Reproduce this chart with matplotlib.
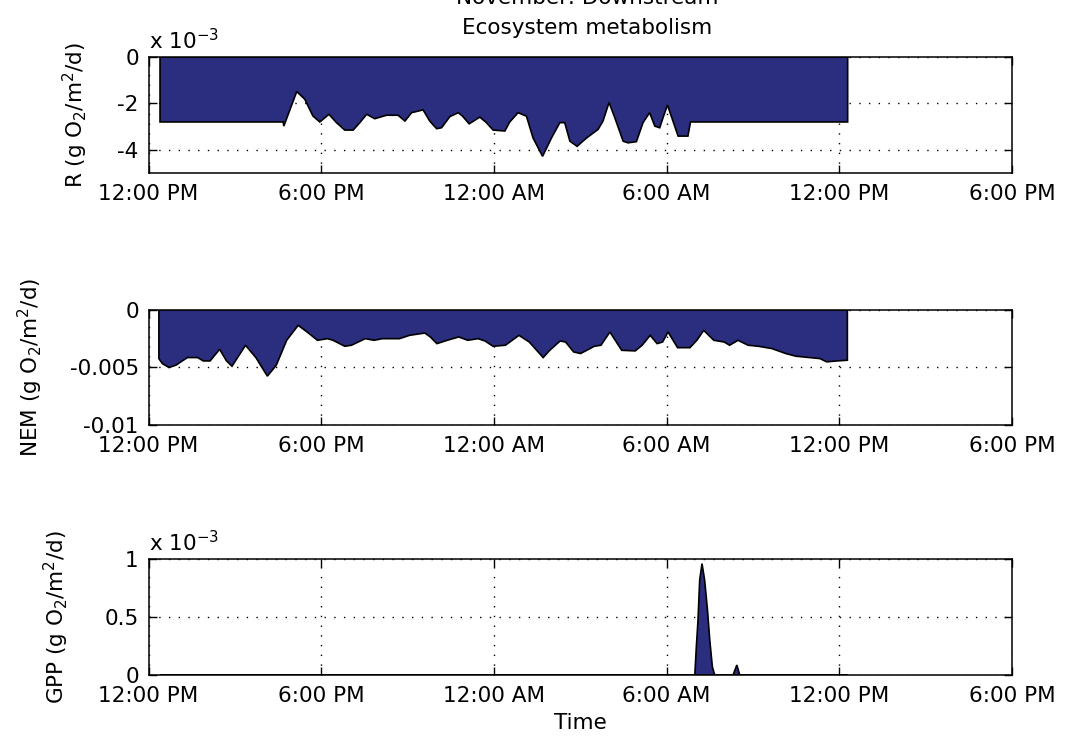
import numpy as np
import matplotlib
matplotlib.use("Agg")
import matplotlib.pyplot as plt
from matplotlib.transforms import offset_copy

plt.rcParams['font.family'] = ['DejaVu Sans']
plt.rcParams['mathtext.default'] = 'regular'
plt.rcParams['font.size'] = 15.5

# Time axis: hours since 12:00 PM on the first day
TICK_HOURS = [0, 6, 12, 18, 24, 30]
TICK_LABELS = ['12:00 PM', '6:00 PM', '12:00 AM', '6:00 AM', '12:00 PM', '6:00 PM']

# Respiration, units of 1e-3 g O2/m2/d
r_time = [0.40, 4.68, 4.70, 5.15, 5.43, 5.71, 5.95, 6.27, 6.53, 6.82, 7.11, 7.34,
          7.58, 7.86, 8.27, 8.67, 8.91, 9.14, 9.54, 9.77, 10.01, 10.18, 10.47,
          10.76, 10.91, 11.14, 11.51, 11.74, 11.97, 12.38, 12.55, 12.84, 13.13,
          13.36, 13.69, 14.00, 14.29, 14.46, 14.64, 14.89, 15.22, 15.62, 15.79,
          16.00, 16.20, 16.49, 16.66, 16.95, 17.18, 17.41, 17.59, 17.76, 17.88,
          18.03, 18.22, 18.40, 18.74, 18.83, 24.29]
r_value = [-2.80, -2.80, -2.98, -1.49, -1.82, -2.54, -2.80, -2.47, -2.83, -3.15,
           -3.15, -2.83, -2.47, -2.66, -2.51, -2.51, -2.76, -2.40, -2.28, -2.76,
           -3.09, -3.05, -2.57, -2.40, -2.55, -2.88, -2.59, -2.83, -3.15, -3.19,
           -2.80, -2.40, -2.55, -3.49, -4.28, -3.49, -2.83, -2.83, -3.63, -3.85,
           -3.49, -3.12, -2.76, -1.96, -2.62, -3.63, -3.70, -3.65, -2.83, -2.40,
           -2.98, -3.05, -2.60, -2.07, -2.76, -3.41, -3.41, -2.80, -2.80]

# Net ecosystem metabolism, units of 1e-3 g O2/m2/d
nem_time = [0.36, 0.48, 0.71, 0.95, 1.35, 1.71, 1.90, 2.14, 2.47, 2.71, 2.90,
            3.37, 3.73, 4.13, 4.44, 4.80, 5.20, 5.51, 5.87, 6.22, 6.41, 6.82,
            7.05, 7.53, 7.84, 8.12, 8.72, 9.07, 9.60, 9.79, 10.02, 10.38, 10.78,
            11.09, 11.45, 11.69, 11.97, 12.40, 12.87, 13.23, 13.71, 13.94, 14.30,
            14.49, 14.77, 15.01, 15.49, 15.72, 16.03, 16.44, 16.91, 17.15, 17.43,
            17.67, 17.86, 18.05, 18.38, 18.81, 19.05, 19.29, 19.64, 20.00, 20.19,
            20.48, 20.83, 21.19, 21.66, 22.14, 22.49, 22.97, 23.33, 23.56, 23.92,
            24.28]
nem_value = [-4.24, -4.67, -5.01, -4.81, -4.15, -4.15, -4.44, -4.44, -3.43, -4.44,
             -4.90, -3.08, -4.15, -5.76, -4.81, -2.65, -1.35, -1.93, -2.65, -2.51,
             -2.65, -3.17, -3.08, -2.51, -2.65, -2.51, -2.51, -2.22, -2.02, -2.36,
             -2.94, -2.65, -2.36, -2.65, -2.51, -2.71, -3.17, -3.08, -2.22, -2.80,
             -4.15, -3.52, -2.71, -2.80, -3.66, -3.80, -3.17, -3.08, -1.93, -3.52,
             -3.57, -3.08, -2.22, -2.94, -2.80, -1.93, -3.29, -3.29, -2.65, -1.79,
             -2.65, -2.80, -3.08, -2.65, -3.08, -3.17, -3.37, -3.80, -4.03, -4.15,
             -4.24, -4.52, -4.44, -4.38]

# Gross primary production, units of 1e-3 g O2/m2/d
gpp_time = [0.40, 18.98, 19.03, 19.09, 19.15, 19.23, 19.32, 19.42, 19.50, 19.59,
            19.67, 20.31, 20.44, 20.54, 24.29]
gpp_value = [0.0, 0.0, 0.23, 0.47, 0.82, 0.96, 0.82, 0.56, 0.30, 0.07,
             0.0, 0.0, 0.086, 0.0, 0.0]

FILL = '#2b2d7e'


def area(ax, t, v):
    """Filled area between the series and zero, outlined in black."""
    t = np.asarray(t, float)
    v = np.asarray(v, float)
    xs = np.concatenate([[t[0]], t, [t[-1]]])
    ys = np.concatenate([[0.0], v, [0.0]])
    ax.fill(xs, ys, facecolor=FILL, edgecolor='black', linewidth=1.2, zorder=2)


def style(ax, yticks, ylabels, ylim):
    ax.set_xlim(0, 30)
    ax.set_xticks(TICK_HOURS)
    ax.set_xticklabels(TICK_LABELS)
    ax.set_ylim(*ylim)
    ax.set_yticks(yticks)
    ax.set_yticklabels(ylabels)
    ax.tick_params(direction='in', length=6, width=1, top=True, right=True,
                   pad=7)
    ax.tick_params(axis='x', pad=8)
    ax.set_axisbelow(True)
    ax.grid(True, color='black', linestyle=(0, (1, 6)), linewidth=1.0)
    for s in ax.spines.values():
        s.set_linewidth(1.1)


fig = plt.figure(figsize=(10.70, 7.46), dpi=100)
ax1 = fig.add_axes([0.1388, 0.7681, 0.8070, 0.1555])
ax2 = fig.add_axes([0.1388, 0.4303, 0.8070, 0.1545])
ax3 = fig.add_axes([0.1388, 0.0952, 0.8070, 0.1555])

area(ax1, r_time, r_value)
style(ax1, [-4, -2, 0], ['-4', '-2', '0'], (-5, 0))
ax1.set_ylabel(r'R (g O$_2$/m$^2$/d)', labelpad=20)
top_center = ax1.transAxes
ax1.text(0.5, 1.0, 'Ecosystem metabolism', ha='center', va='center',
         transform=offset_copy(top_center, fig=fig, x=5, y=21, units='points'))
ax1.text(0.5, 1.0, 'November: Downstream', ha='center', va='center',
         transform=offset_copy(top_center, fig=fig, x=5, y=42.5, units='points'))
ax1.text(0.0, 1.03, r'x 10$^{-3}$', transform=ax1.transAxes,
         ha='left', va='bottom')

nem_scaled = [v * 1e-3 for v in nem_value]
area(ax2, nem_time, nem_scaled)
style(ax2, [-0.01, -0.005, 0], ['-0.01', '-0.005', '0'], (-0.01, 0))
ax2.set_ylabel(r'NEM (g O$_2$/m$^2$/d)', labelpad=18)

area(ax3, gpp_time, gpp_value)
style(ax3, [0, 0.5, 1], ['0', '0.5', '1'], (0, 1))
ax3.set_ylabel(r'GPP (g O$_2$/m$^2$/d)', labelpad=24)
ax3.set_xlabel('Time', labelpad=5)
ax3.text(0.0, 1.03, r'x 10$^{-3}$', transform=ax3.transAxes,
         ha='left', va='bottom')

fig.savefig('out.png', dpi=100)
